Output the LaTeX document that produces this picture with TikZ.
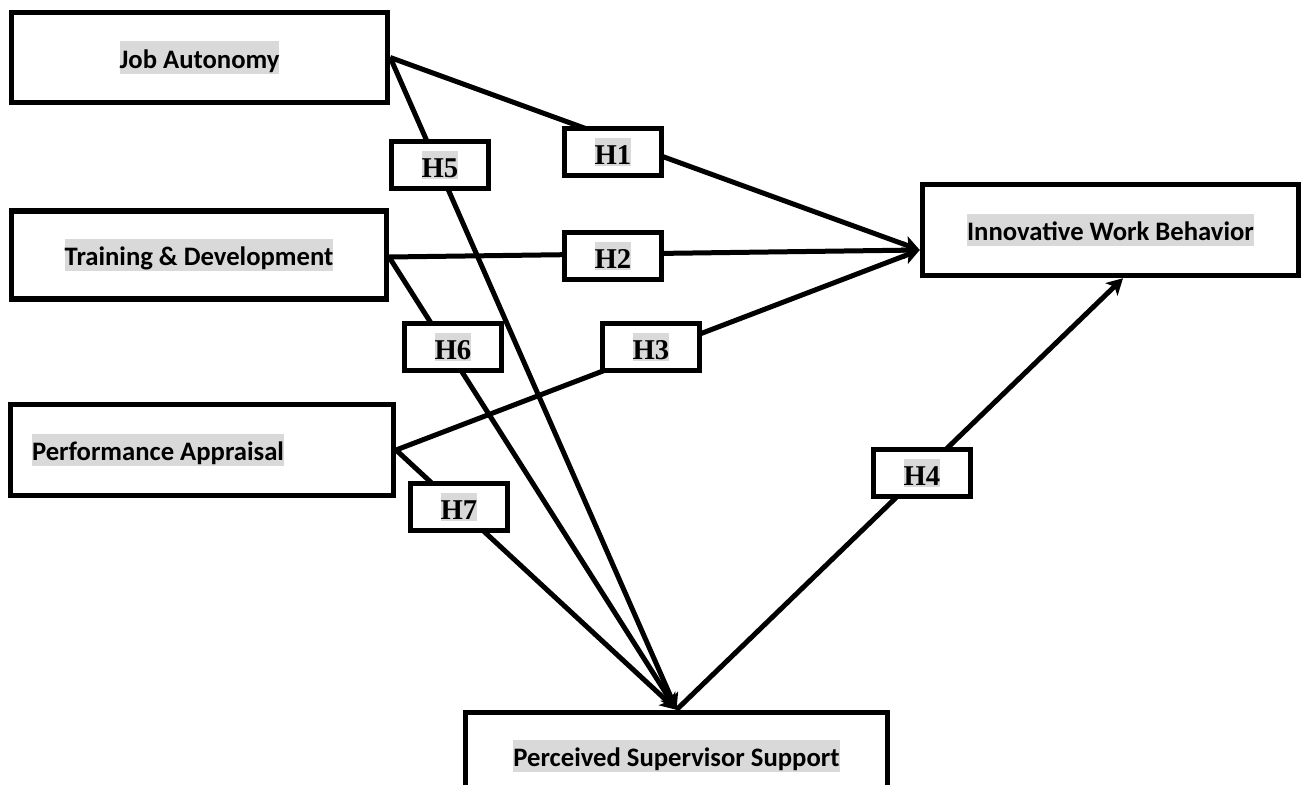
\documentclass[tikz,border=0pt]{standalone}
\usepackage{fontspec}
\setmainfont{Carlito}
\newfontfamily\hfont{Liberation Serif}
\usetikzlibrary{arrows.meta,calc}
\definecolor{hlgray}{HTML}{D9D9D9}
\newcommand\mainhl[1]{{\setlength\fboxsep{0pt}\colorbox{hlgray}{\rule[-0.2em]{0pt}{1.22em}#1}}}
\newcommand\hhl[1]{{\setlength\fboxsep{0pt}\colorbox{hlgray}{\rule[-0.05em]{0pt}{0.95em}#1}}}
\begin{document}
\begin{tikzpicture}[x=0.75pt,y=-0.75pt,
  mainbox/.style={draw=black, line width=4.1pt, fill=white, inner sep=0pt,
    font=\fontsize{20}{24}\selectfont\bfseries},
  hbox/.style={draw=black, line width=3.6pt, fill=white, inner sep=0pt,
    minimum width=73pt, minimum height=35.6pt,
    font=\hfont\fontsize{21.5}{25}\selectfont\bfseries},
  conn/.style={line width=3.75pt, draw=black},
  arr/.style={conn, -{Stealth[length=12pt,width=13pt,inset=3pt]}}
]
\path[use as bounding box, clip] (0,0) rectangle (1307,785);
\fill[white] (0,0) rectangle (1307,785);

% main constructs
\node[mainbox, minimum width=282pt, minimum height=67.5pt] (JA) at (199.5,57.5) {\mainhl{Job Autonomy}};
\node[mainbox, minimum width=281pt, minimum height=66pt] (TD) at (199,255) {\mainhl{Training \& Development}};
\node[mainbox, minimum width=287pt, minimum height=68.25pt] (PA) at (202,450) {\makebox[255pt][l]{\mainhl{Performance Appraisal}}};
\node[mainbox, minimum width=282pt, minimum height=68.25pt] (IWB) at (1110.5,230) {\mainhl{Innovative Work Behavior}};
\node[mainbox, minimum width=316.5pt, minimum height=65.25pt] (PSS) at (676.5,756) {\mainhl{Perceived Supervisor Support}};

\coordinate (iwbin) at ($(IWB.west)+(0,20)$);
\coordinate (iwbbot) at ($(IWB.south)+(12.5,0)$);

% connectors
\draw[arr] (JA.east) -- (iwbin);
\draw[arr] ($(TD.east)+(0,2)$) -- (iwbin);
\draw[arr] (PA.east) -- (iwbin);
\draw[arr] (JA.east) -- (PSS.north);
\draw[arr] ($(TD.east)+(0,2)$) -- (PSS.north);
\draw[arr] (PA.east) -- (PSS.north);
\draw[arr] (PSS.north) -- (iwbbot);

% hypothesis labels
\node[hbox] (H1) at (613,152) {\hhl{H1}};
\node[hbox] (H2) at (613,256) {\hhl{H2}};
\node[hbox] (H3) at (651,347) {\hhl{H3}};
\node[hbox] (H4) at (922,473) {\hhl{H4}};
\node[hbox] (H5) at (440,165) {\hhl{H5}};
\node[hbox] (H6) at (453,347) {\hhl{H6}};
\node[hbox] (H7) at (459,507) {\hhl{H7}};
\end{tikzpicture}
\end{document}
